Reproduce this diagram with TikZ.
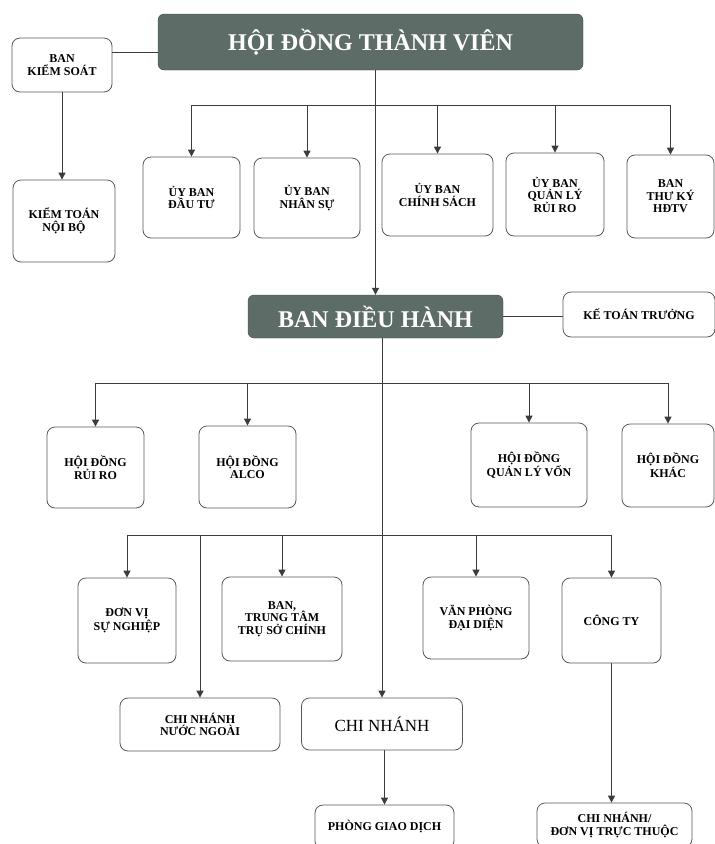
\documentclass[tikz,border=0pt]{standalone}
\usepackage{fontspec}
\setmainfont{Liberation Serif}
\usepackage{xcolor}
\usepackage{tikz}
\usetikzlibrary{arrows.meta,positioning,calc}
\definecolor{headgreen}{RGB}{93,108,103}
\definecolor{linegray}{RGB}{60,60,60}
\tikzset{
  box/.style={rectangle, draw=black!65, line width=0.8pt, rounded corners=8pt, align=center, inner sep=2pt, font=\bfseries\fontsize{12}{12.5}\selectfont},
  headbox/.style={rectangle, draw=headgreen!70!black, fill=headgreen, rounded corners=6pt, text=white, font=\bfseries\fontsize{24}{27}\selectfont},
  arrow/.style={-{Triangle[length=7pt,width=7pt]}, line width=1pt, draw=linegray},
  link/.style={line width=1pt, draw=linegray},
}

\begin{document}
\begin{tikzpicture}[x=1pt,y=-1pt]
  \useasboundingbox (0,0) rectangle (715,844);
  \clip (0,0) rectangle (715,844);

  % Top level
  \node[headbox, minimum width=425pt, minimum height=56pt] (htv) at (370.5,42) {HỘI ĐỒNG THÀNH VIÊN};
  \node[box, minimum width=100pt, minimum height=54pt] (bks) at (62,65) {BAN\\KIỂM SOÁT};
  \node[box, minimum width=102pt, minimum height=82pt] (ktnb) at (64,221) {KIỂM TOÁN\\NỘI BỘ};

  % Committees
  \node[box, minimum width=97pt, minimum height=81pt] (ubdt) at (191.5,197.5) {ỦY BAN\\ĐẦU TƯ};
  \node[box, minimum width=106pt, minimum height=80pt] (ubns) at (307,198) {ỦY BAN\\NHÂN SỰ};
  \node[box, minimum width=111pt, minimum height=82pt] (ubcs) at (437.5,195) {ỦY BAN\\CHÍNH SÁCH};
  \node[box, minimum width=98pt, minimum height=83pt] (ubql) at (555,194.5) {ỦY BAN\\QUẢN LÝ\\RỦI RO};
  \node[box, minimum width=87pt, minimum height=83pt] (bttk) at (670.5,196.5) {BAN\\THƯ KÝ\\HĐTV};

  % Executive board
  \node[headbox, minimum width=255pt, minimum height=43pt] (bdh) at (375.5,316.5) {BAN ĐIỀU HÀNH};
  \node[box, minimum width=152pt, minimum height=45pt] (ktt) at (639,314.5) {KẾ TOÁN TRƯỞNG};

  % Councils
  \node[box, minimum width=97pt, minimum height=81pt] (hdrr) at (95.5,467.5) {HỘI ĐỒNG\\RỦI RO};
  \node[box, minimum width=97pt, minimum height=82pt] (alco) at (247.5,467) {HỘI ĐỒNG\\ALCO};
  \node[box, minimum width=116pt, minimum height=84pt] (hdqlv) at (529,465) {HỘI ĐỒNG\\QUẢN LÝ VỐN};
  \node[box, minimum width=92pt, minimum height=83pt] (hdk) at (668,465.5) {HỘI ĐỒNG\\KHÁC};

  % Units
  \node[box, minimum width=98pt, minimum height=85pt] (dvsn) at (127,620.5) {ĐƠN VỊ\\SỰ NGHIỆP};
  \node[box, minimum width=120pt, minimum height=84pt] (bttsc) at (282,619) {BAN,\\TRUNG TÂM\\TRỤ SỞ CHÍNH};
  \node[box, minimum width=106pt, minimum height=82pt] (vpdd) at (476,618) {VĂN PHÒNG\\ĐẠI DIỆN};
  \node[box, minimum width=99pt, minimum height=85pt] (ct) at (611.5,620.5) {CÔNG TY};

  % Branches
  \node[box, minimum width=160pt, minimum height=53pt] (cnnn) at (200,724.5) {CHI NHÁNH\\NƯỚC NGOÀI};
  \node[box, minimum width=161pt, minimum height=52pt, font=\fontsize{17}{20}\selectfont] (cn) at (382,724) {CHI NHÁNH};
  \node[box, minimum width=139pt, minimum height=44pt] (pgd) at (384.5,827) {PHÒNG GIAO DỊCH};
  \node[box, minimum width=155pt, minimum height=44pt] (dvtt) at (614.5,825) {CHI NHÁNH/\\ĐƠN VỊ TRỰC THUỘC};

  % Connectors
  \draw[link] ([yshift=13pt]bks.east) -- ([yshift=13pt]bks.east -| htv.west);
  \draw[arrow] (bks.south) -- (bks.south |- ktnb.north);
  \draw[arrow] (htv.south -| bdh.north) -- (bdh.north);
  \draw[link] (bdh.east) -- (bdh.east -| ktt.west);
  \draw[arrow] (bdh.south -| cn.north) -- (cn.north);

  \coordinate (bus1) at (0,105);
  \draw[link] (bus1 -| ubdt) -- (bus1 -| bttk);
  \foreach \n in {ubdt,ubns,ubcs,ubql,bttk}
    \draw[arrow] (bus1 -| \n) -- (\n.north);

  \coordinate (bus2) at (0,383);
  \draw[link] (bus2 -| hdrr) -- (bus2 -| hdk);
  \foreach \n in {hdrr,alco,hdqlv,hdk}
    \draw[arrow] (bus2 -| \n) -- (\n.north);

  \coordinate (bus3) at (0,535);
  \draw[link] (bus3 -| dvsn) -- (bus3 -| ct);
  \foreach \n in {dvsn,bttsc,vpdd,ct,cnnn}
    \draw[arrow] (bus3 -| \n) -- (\n.north);

  \draw[arrow] (cn.south -| pgd.north) -- (pgd.north);
  \draw[arrow] (ct.south) -- (ct.south |- dvtt.north);
\end{tikzpicture}
\end{document}
